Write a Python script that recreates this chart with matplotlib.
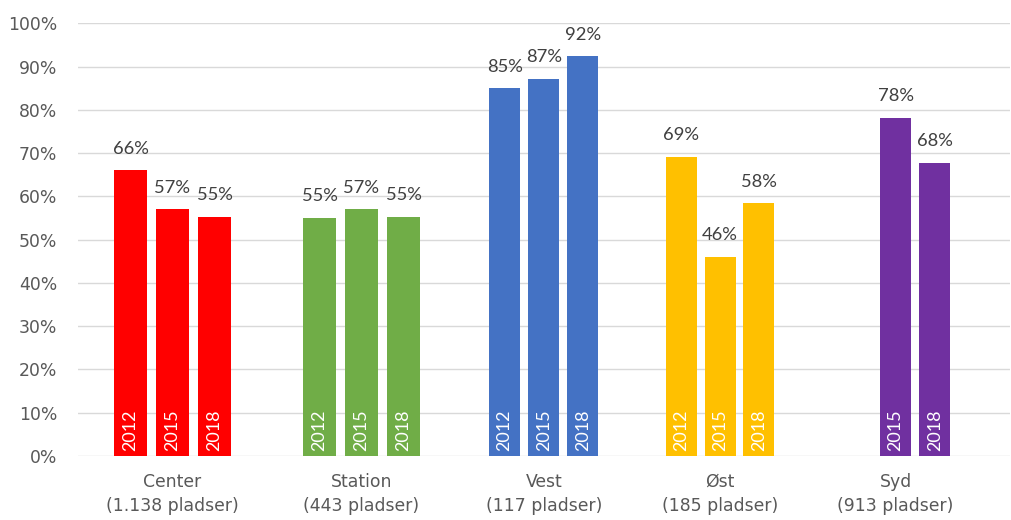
import matplotlib
matplotlib.use("Agg")
import matplotlib.pyplot as plt
from matplotlib.ticker import PercentFormatter

# ---- data ----
categories = ["Center\n(1.138 pladser)", "Station\n(443 pladser)", "Vest\n(117 pladser)",
              "Øst\n(185 pladser)", "Syd\n(913 pladser)"]
years = ["2012", "2015", "2018"]
occ_2012 = [0.660, 0.550, 0.850, 0.691, None]
occ_2015 = [0.570, 0.570, 0.871, 0.460, 0.781]
occ_2018 = [0.552, 0.552, 0.924, 0.584, 0.677]
series = [occ_2012, occ_2015, occ_2018]

# ---- layout / style ----
colors = ["#FF0000", "#70AD47", "#4472C4", "#FFC000", "#7030A0"]
group_centers = [172.5, 361.5, 543.8, 720.2, 895.6]
slot_spacing = [42.0, 42.0, 39.2, 38.7, 39.2]
bar_widths = [33.0, 33.0, 31.0, 31.0, 31.0]

W, H = 1012, 520
fig = plt.figure(figsize=(W / 100, H / 100), dpi=100)
ax_left, ax_right, ax_top, ax_bottom = 78, 1010, 23.3, 456
ax = fig.add_axes([ax_left / W, 1 - ax_bottom / H, (ax_right - ax_left) / W, (ax_bottom - ax_top) / H])

FONT = "Lato"
plt.rcParams["font.family"] = FONT

for gi, cat in enumerate(categories):
    for si, vals in enumerate(series):
        v = vals[gi]
        if v is None:
            continue
        x = group_centers[gi] + (si - 1) * slot_spacing[gi]
        ax.bar(x, v, width=bar_widths[gi], color=colors[gi], zorder=3)
        ax.annotate(f"{round(v * 100)}%", (x, v), xytext=(0, 12), textcoords="offset points",
                    ha="center", va="baseline", fontsize=13.2, color="#404040", family=FONT)
        ax.annotate(years[si], (x, 0), xytext=(0, 3.6), textcoords="offset points",
                    ha="center", va="bottom", rotation=90, fontsize=13, color="white",
                    family=FONT, zorder=4)

ax.set_xlim(ax_left, ax_right)
ax.set_ylim(0, 1.0)
ax.set_yticks([i / 10 for i in range(11)])
ax.yaxis.set_major_formatter(PercentFormatter(1.0, decimals=0))
ax.set_xticks(group_centers)
ax.set_xticklabels(categories)
ax.tick_params(axis="both", length=0, labelsize=12.4, labelcolor="#595959")
ax.tick_params(axis="y", pad=14.8)
ax.tick_params(axis="x", pad=12)
for lab in ax.get_xticklabels():
    lab.set_linespacing(1.45)
ax.grid(axis="y", color="#D9D9D9", linewidth=1.0, zorder=0)
for s in ax.spines.values():
    s.set_visible(False)

fig.savefig("out.png", dpi=100)
